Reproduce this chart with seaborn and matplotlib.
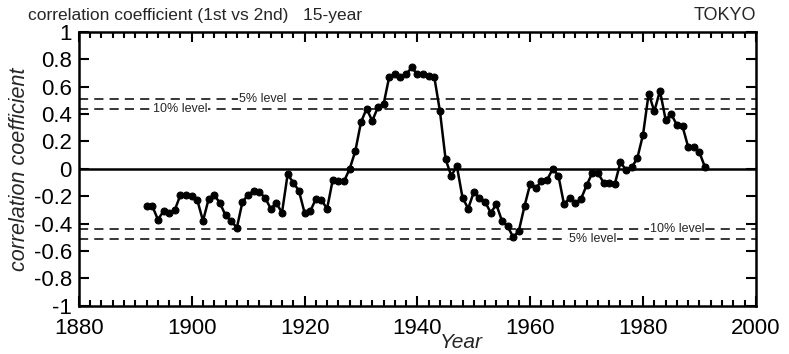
import numpy as np
import pandas as pd
import matplotlib
matplotlib.use("Agg")
import matplotlib.pyplot as plt
from matplotlib.ticker import MultipleLocator, FuncFormatter
import seaborn as sns

# 15-year running correlation, Tokyo (1st vs 2nd), centred years
years = list(range(1892, 1992))
corr = [
    -0.27, -0.27, -0.37, -0.31, -0.32, -0.30, -0.19, -0.19, -0.20, -0.23,
    -0.38, -0.22, -0.19, -0.25, -0.34, -0.38, -0.43, -0.24, -0.19, -0.16,
    -0.17, -0.21, -0.29, -0.25, -0.32, -0.04, -0.10, -0.16, -0.32, -0.31,
    -0.22, -0.23, -0.29, -0.08, -0.09, -0.09, 0.00, 0.13, 0.34, 0.44,
    0.35, 0.45, 0.47, 0.67, 0.69, 0.67, 0.69, 0.74, 0.69, 0.69,
    0.68, 0.67, 0.42, 0.07, -0.05, 0.02, -0.21, -0.29, -0.17, -0.21,
    -0.24, -0.32, -0.26, -0.38, -0.42, -0.50, -0.45, -0.27, -0.11, -0.14,
    -0.09, -0.08, 0.00, -0.05, -0.26, -0.21, -0.25, -0.22, -0.12, -0.03,
    -0.03, -0.10, -0.10, -0.11, 0.05, -0.01, 0.01, 0.08, 0.25, 0.55,
    0.42, 0.57, 0.36, 0.40, 0.32, 0.31, 0.16, 0.16, 0.12, 0.01,
]

# significance levels of r for a 15-year window
level_5 = 0.51
level_10 = 0.44

sns.set_style("ticks")
plt.rcParams["font.family"] = ["Liberation Sans", "DejaVu Sans"]
plt.rcParams["axes.unicode_minus"] = False

df = pd.DataFrame({"Year": years, "r": corr})

fig = plt.figure(figsize=(7.89, 3.54), dpi=100)
ax = fig.add_axes([0.100, 0.136, 0.858, 0.774])

# reference lines
ax.axhline(0, color="black", lw=1.8, zorder=2)
for lv in (level_5, level_10, -level_10, -level_5):
    ax.axhline(lv, color="black", lw=1.1, ls=(0, (6, 4)), zorder=1)

sns.lineplot(data=df, x="Year", y="r", ax=ax, color="black", lw=1.8,
             marker="o", markersize=5, markeredgecolor="black", zorder=3)

lbl = dict(fontsize=9, ha="center", va="center", zorder=2,
           bbox=dict(facecolor="white", edgecolor="none", pad=0.5))
ax.text(1912.5, level_5, "5% level", **lbl)
ax.text(1898.0, level_10, "10% level", **lbl)
ax.text(1986.0, -level_10, "10% level", **lbl)
ax.text(1971.0, -level_5, "5% level", **lbl)

ax.set_xlim(1880, 2000)
ax.set_ylim(-1, 1)
ax.xaxis.set_major_locator(MultipleLocator(20))
ax.xaxis.set_minor_locator(MultipleLocator(2))
ax.yaxis.set_major_locator(MultipleLocator(0.2))
ax.yaxis.set_major_formatter(FuncFormatter(lambda v, p: f"{v:g}" if abs(v) > 1e-9 else "0"))

ax.tick_params(which="both", direction="in", top=True, right=True, width=1.5, colors="black")
ax.tick_params(which="major", length=7)
ax.tick_params(which="minor", length=4)
ax.tick_params(axis="x", which="major", labelsize=16, pad=8.5)
ax.tick_params(axis="y", which="major", labelsize=16, pad=5)
for s in ax.spines.values():
    s.set_linewidth(1.8)
    s.set_color("black")

ax.set_xlabel("Year", fontsize=15, style="italic")
ax.xaxis.set_label_coords(0.565, -0.10)
ax.set_ylabel("correlation coefficient", fontsize=15.5, style="italic", labelpad=3)

fig.text(0.036, 0.955, "correlation coefficient (1st vs 2nd)   15-year", fontsize=12.5, va="center", ha="left")
fig.text(0.958, 0.955, "TOKYO", fontsize=13, va="center", ha="right")

fig.savefig("out.png", dpi=100)
